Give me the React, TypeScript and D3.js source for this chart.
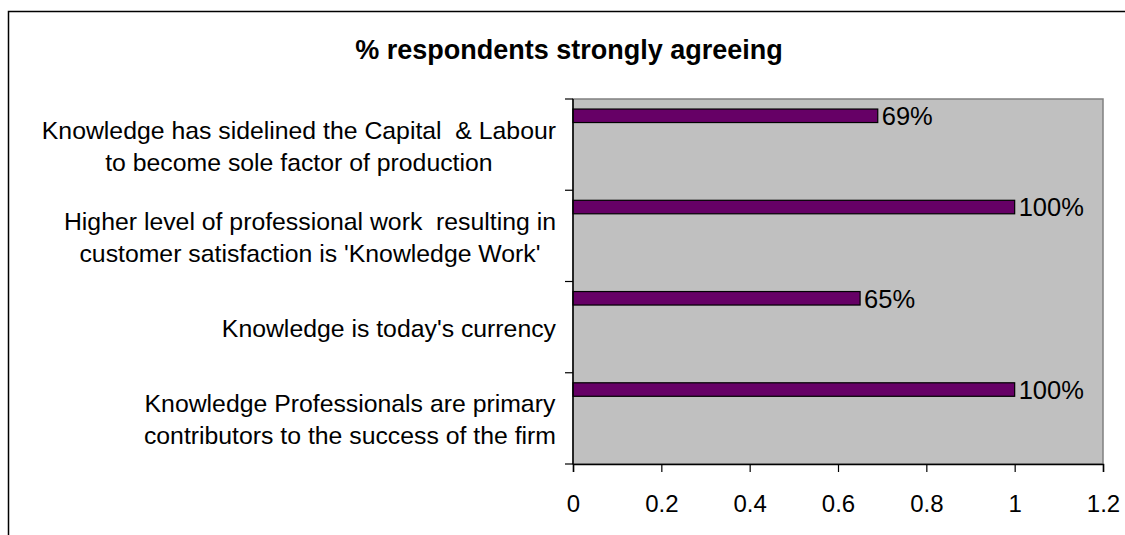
import React, { useRef, useEffect } from 'react';
import * as d3 from 'd3';

// statements, top to bottom; each entry is the lines of its label
const statements: string[][] = [
  ['Knowledge has sidelined the Capital  & Labour', 'to become sole factor of production'],
  ['Higher level of professional work  resulting in', "customer satisfaction is 'Knowledge Work'"],
  ["Knowledge is today's currency"],
  ['Knowledge Professionals are primary', 'contributors to the success of the firm'],
];
const strongAgree = [0.69, 1.0, 0.65, 1.0];
const valueLabels = ['69%', '100%', '65%', '100%'];
const xTicks = [0, 0.2, 0.4, 0.6, 0.8, 1, 1.2];
const title = '% respondents strongly agreeing';

export default function App() {
  const ref = useRef<SVGSVGElement>(null);

  useEffect(() => {
    if (!ref.current) return;
    const svg = d3.select(ref.current);
    svg.selectAll('*').remove();

    const font = 'Liberation Sans, Arial, sans-serif';
    const plot = { left: 573, right: 1103, top: 99, bottom: 464 };

    // outer chart frame (runs off the right and bottom of the picture)
    svg.append('rect')
      .attr('x', 8.5).attr('y', 11.5)
      .attr('width', 1200).attr('height', 600)
      .attr('fill', '#fff')
      .attr('stroke', '#000')
      .attr('stroke-width', 1.5);

    svg.append('text')
      .attr('x', 569).attr('y', 59)
      .attr('text-anchor', 'middle')
      .attr('font-family', font)
      .attr('font-weight', 'bold')
      .attr('font-size', 27)
      .text(title);

    const x = d3.scaleLinear().domain([0, 1.2]).range([plot.left, plot.right]);
    const y = d3.scaleBand<number>()
      .domain(d3.range(statements.length))
      .range([plot.top, plot.bottom]);
    const bw = y.bandwidth();

    // plot area
    svg.append('rect')
      .attr('x', plot.left).attr('y', plot.top)
      .attr('width', plot.right - plot.left).attr('height', plot.bottom - plot.top)
      .attr('fill', '#c0c0c0')
      .attr('stroke', '#808080')
      .attr('stroke-width', 1.5);

    // bars
    svg.selectAll('.bar')
      .data(strongAgree)
      .enter()
      .append('rect')
      .attr('class', 'bar')
      .attr('x', x(0))
      .attr('y', (_, i) => (y(i) as number) + bw * 0.11)
      .attr('width', d => x(d) - x(0))
      .attr('height', bw * 0.148)
      .attr('fill', '#660066')
      .attr('stroke', '#000')
      .attr('stroke-width', 1.2);

    svg.selectAll('.val')
      .data(strongAgree)
      .enter()
      .append('text')
      .attr('class', 'val')
      .attr('x', d => x(d) + 4)
      .attr('y', (_, i) => (y(i) as number) + bw * 0.185)
      .attr('dy', '0.36em')
      .attr('font-family', font)
      .attr('font-size', 25.5)
      .attr('fill', '#000')
      .text((_, i) => valueLabels[i]);

    // y axis
    const yAxis = svg.append('g');
    yAxis.append('line')
      .attr('x1', plot.left).attr('x2', plot.left)
      .attr('y1', plot.top).attr('y2', plot.bottom)
      .attr('stroke', '#000').attr('stroke-width', 1.5);
    yAxis.selectAll('.ytick')
      .data(d3.range(statements.length + 1))
      .enter()
      .append('line')
      .attr('x1', plot.left - 8).attr('x2', plot.left)
      .attr('y1', i => plot.top + i * bw).attr('y2', i => plot.top + i * bw)
      .attr('stroke', '#000').attr('stroke-width', 1.2);

    // category labels: block right-aligned, lines centred within block
    const labelRight = 556;
    const lineH = 32;
    statements.forEach((lines, i) => {
      const g = svg.append('g');
      const mid = (y(i) as number) + bw / 2 + 1;
      const texts = lines.map((ln, j) =>
        g.append('text')
          .attr('y', mid + (j - (lines.length - 1) / 2) * lineH)
          .attr('dy', '0.36em')
          .attr('text-anchor', 'middle')
          .attr('font-family', font)
          .attr('font-size', 24.8)
          .style('white-space', 'pre')
          .text(ln)
      );
      const maxW = d3.max(texts, t => (t.node() as SVGTextElement).getComputedTextLength()) || 0;
      texts.forEach(t => t.attr('x', labelRight - maxW / 2));
    });

    // x axis
    const xAxis = svg.append('g')
      .attr('transform', `translate(0,${plot.bottom})`)
      .call(d3.axisBottom(x).tickValues(xTicks).tickSize(8).tickPadding(23).tickFormat(d3.format('')));
    xAxis.select('.domain').attr('stroke', '#000').attr('stroke-width', 1.5);
    xAxis.selectAll('.tick line').attr('stroke', '#000').attr('stroke-width', 1.2);
    xAxis.selectAll('.tick text')
      .attr('font-family', font)
      .attr('font-size', 24)
      .attr('fill', '#000');
  }, []);

  return (
    <svg
      ref={ref}
      width={1125}
      height={535}
      style={{ position: 'absolute', left: 0, top: 0, background: '#fff' }}
    />
  );
}
